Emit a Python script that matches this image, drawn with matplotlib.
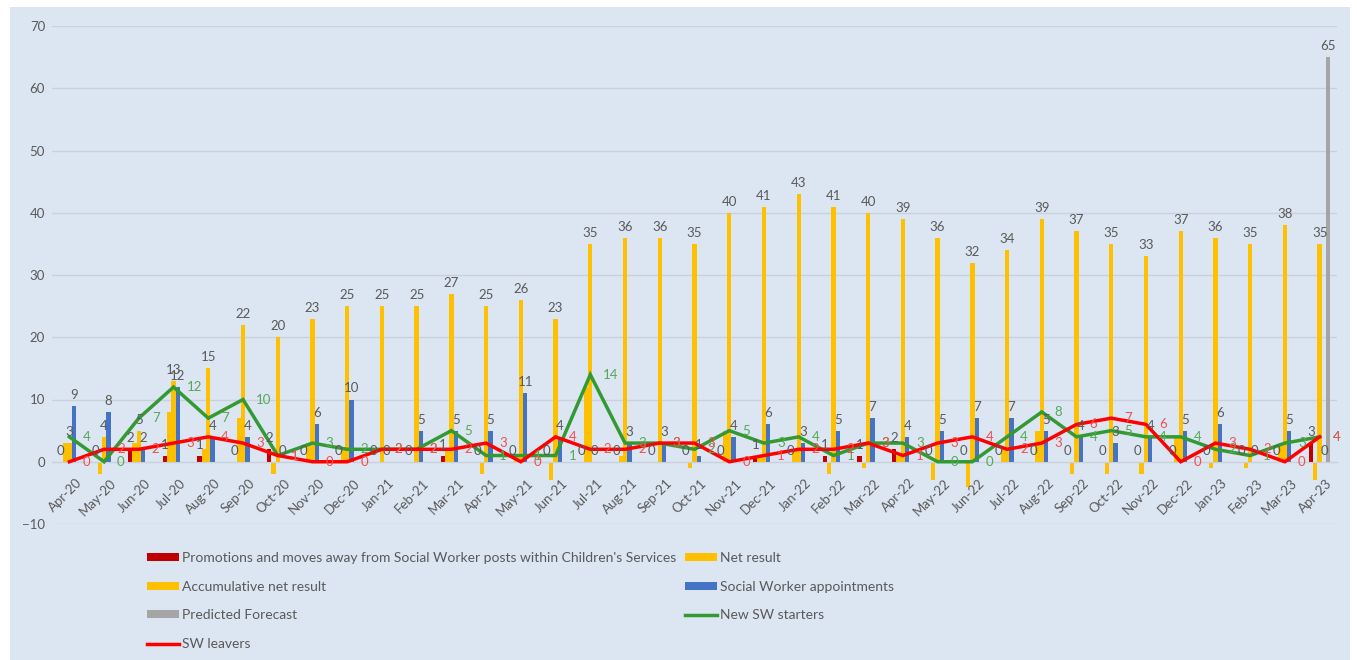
import matplotlib
matplotlib.use("Agg")
import matplotlib.pyplot as plt
from matplotlib.patches import Patch, Rectangle
from matplotlib.lines import Line2D
import numpy as np

# ---- data -------------------------------------------------------------
months = ["Apr-20", "May-20", "Jun-20", "Jul-20", "Aug-20", "Sep-20", "Oct-20", "Nov-20", "Dec-20",
          "Jan-21", "Feb-21", "Mar-21", "Apr-21", "May-21", "Jun-21", "Jul-21", "Aug-21", "Sep-21",
          "Oct-21", "Nov-21", "Dec-21",
          "Jan-22", "Feb-22", "Mar-22", "Apr-22", "May-22", "Jun-22", "Jul-22", "Aug-22", "Sep-22",
          "Oct-22", "Nov-22", "Dec-22",
          "Jan-23", "Feb-23", "Mar-23", "Apr-23"]

promotions = [0, 0, 2, 1, 1, 0, 2, 0, 0,
              0, 0, 1, 0, 0, 0, 0, 0, 0, 0, 0, 1,
              0, 1, 1, 2, 0, 0, 0, 0, 0, 0, 0, 0,
              0, 0, 0, 3]
net_result = [3, -2, 3, 8, 2, 7, -2, 3, 2,
              0, 0, 2, -2, 1, -3, 12, 1, 0, -1, 5, 1,
              2, -2, -1, 1, -3, -4, 2, 5, -2, -2, -2, 4,
              -1, -1, 3, -3]
accumulative = [3, 4, 5, 13, 15, 22, 20, 23, 25,
                25, 25, 27, 25, 26, 23, 35, 36, 36, 35, 40, 41,
                43, 41, 40, 39, 36, 32, 34, 39, 37, 35, 33, 37,
                36, 35, 38, 35]
appointments = [9, 8, 2, 12, 4, 4, 0, 6, 10,
                0, 5, 5, 5, 11, 4, 0, 3, 3, 1, 4, 6,
                3, 5, 7, 4, 5, 7, 7, 5, 4, 3, 4, 5,
                6, 0, 5, 0]
forecast = [0, 0, 0, 0, 0, 0, 0, 0, 0,
            0, 0, 0, 0, 0, 0, 0, 0, 0, 0, 0, 0,
            0, 0, 0, 0, 0, 0, 0, 0, 0, 0, 0, 0,
            0, 0, 0, 65]
starters = [4, 0, 7, 12, 7, 10, 1, 3, 2,
            2, 2, 5, 1, 1, 1, 14, 3, 3, 2, 5, 3,
            4, 1, 3, 3, 0, 0, 4, 8, 4, 5, 4, 4,
            2, 1, 3, 4]
leavers = [0, 2, 2, 3, 4, 3, 1, 0, 0,
           2, 2, 2, 3, 0, 4, 2, 2, 3, 3, 0, 1,
           2, 2, 3, 1, 3, 4, 2, 3, 6, 7, 6, 0,
           3, 2, 0, 4]

# ---- style ------------------------------------------------------------
BG = "#DCE6F2"
GRID = "#C8D1DC"
TXT = "#595959"
C_PROMO = "#C00000"
C_YELLOW = "#FFC000"
C_BLUE = "#4472C4"
C_GRAY = "#A5A5A5"
C_GREEN = "#339933"
C_RED = "#FF0000"
C_GREEN_LBL = "#55A855"
C_RED_LBL = "#F05050"

plt.rcParams["font.family"] = ["Lato", "DejaVu Sans"]
FS = 9.5

W, H = 1357, 660
fig = plt.figure(figsize=(W / 100, H / 100), dpi=100, facecolor="white")
fig.patches.append(Rectangle((10 / W, 0), 1340 / W, 1 - 7 / H, transform=fig.transFigure,
                             facecolor=BG, edgecolor="none", zorder=-5))

ax = fig.add_axes([52 / W, 1 - 524 / H, (1337 - 52) / W, (524 - 26) / H])
ax.set_facecolor("none")
ax.set_xlim(-0.5, len(months) - 0.5)
ax.set_ylim(-10, 70)
ax.set_yticks(range(-10, 71, 10))
ax.yaxis.grid(True, color=GRID, lw=1)
ax.set_axisbelow(True)
for s in ("top", "right", "left"):
    ax.spines[s].set_visible(False)
ax.spines["bottom"].set_position(("data", 0))
ax.spines["bottom"].set_color(GRID)
ax.tick_params(length=0, labelsize=FS, labelcolor=TXT, pad=5)
ax.set_xticks([])

x = np.arange(len(months))
bw = 0.125
series = [(promotions, C_PROMO), (net_result, C_YELLOW), (accumulative, C_YELLOW),
          (appointments, C_BLUE), (forecast, C_GRAY)]
for k, (vals, col) in enumerate(series):
    ax.bar(x + (k - 2) * bw, vals, width=bw, color=col, zorder=2)

ax.plot(x, starters, color=C_GREEN, lw=2.5, zorder=3, solid_joinstyle="miter")
ax.plot(x, leavers, color=C_RED, lw=2.5, zorder=3, solid_joinstyle="miter")


def bar_label(xp, v, col=TXT):
    ax.annotate(str(v), (xp, max(v, 0)), xytext=(0, 5), textcoords="offset pixels",
                ha="center", va="bottom", fontsize=FS, color=col, zorder=5)


def line_label(xp, v, col):
    ax.annotate(str(v), (xp, v), xytext=(13, 0), textcoords="offset pixels",
                ha="left", va="center", fontsize=FS, color=col, zorder=5)


for i in range(len(months)):
    bar_label(x[i] - 2 * bw, promotions[i])
    bar_label(x[i], accumulative[i])
    bar_label(x[i] + bw, appointments[i])
    if forecast[i]:
        bar_label(x[i] + 2 * bw, forecast[i])
    line_label(x[i], starters[i], C_GREEN_LBL)
    line_label(x[i], leavers[i], C_RED_LBL)
    ax.annotate(months[i], (x[i], 0), xytext=(6, -15), textcoords="offset pixels",
                rotation=45, rotation_mode="anchor", ha="right", va="top",
                fontsize=FS, color=TXT)

# ---- legend -----------------------------------------------------------
def bar_handle(c):
    return Patch(facecolor=c, edgecolor="none")


def line_handle(c):
    return Line2D([], [], color=c, lw=2.5)


left_items = [
    (bar_handle(C_PROMO), "Promotions and moves away from Social Worker posts within Children's Services"),
    (bar_handle(C_YELLOW), "Accumulative net result"),
    (bar_handle(C_GRAY), "Predicted Forecast"),
    (line_handle(C_RED), "SW leavers"),
]
right_items = [
    (bar_handle(C_YELLOW), "Net result"),
    (bar_handle(C_BLUE), "Social Worker appointments"),
    (line_handle(C_GREEN), "New SW starters"),
]
common = dict(frameon=False, fontsize=10, labelcolor=TXT, handlelength=2.3, handleheight=0.5,
              handletextpad=0.25, labelspacing=1.2, borderpad=0, loc="upper left")
for items, xpx in ((left_items, 140), (right_items, 678)):
    fig.legend([h for h, _ in items], [t for _, t in items],
               bbox_to_anchor=(xpx / W, 1 - 545 / H), **common)

fig.savefig("out.png", dpi=100, facecolor=fig.get_facecolor())
